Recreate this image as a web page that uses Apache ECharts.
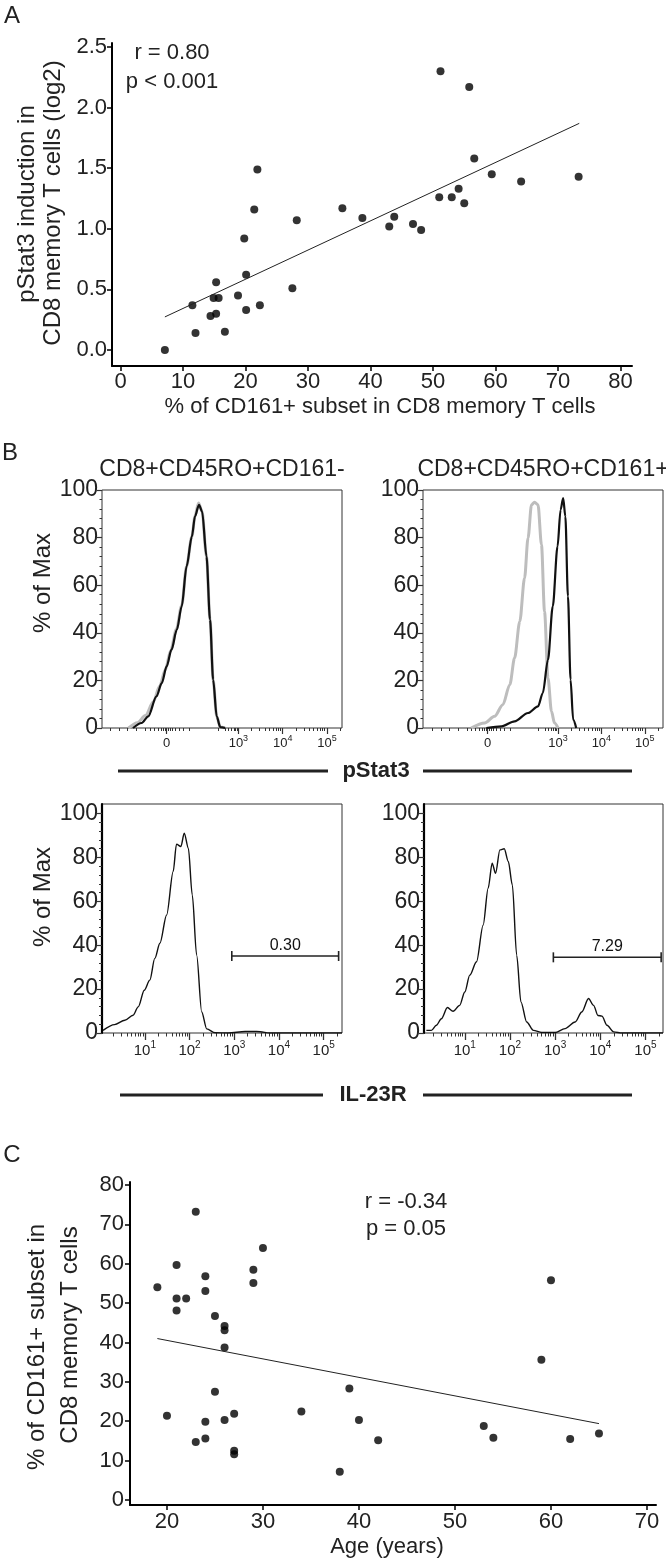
<!DOCTYPE html>
<html><head><meta charset="utf-8">
<script src="https://cdn.jsdelivr.net/npm/echarts@6/dist/echarts.min.js"></script>
<style>html,body{margin:0;padding:0;background:#fff}#c{width:666px;height:1558px}</style>
</head><body><div id="c"></div><script>
// ---------- Panel A data ----------
const aX = [7.1, 11.5, 12.0, 14.4, 14.9, 15.3, 15.3, 15.7, 16.7, 18.8, 19.8, 20.1, 20.1, 21.4, 21.9, 22.3, 27.5, 28.2, 35.5, 38.7, 43.0, 43.8, 46.8, 48.1, 51.0, 51.2, 53.0, 54.1, 55.0, 55.8, 56.6, 59.4, 64.1, 73.3];
const aY = [0.00, 0.37, 0.14, 0.28, 0.43, 0.30, 0.56, 0.43, 0.15, 0.45, 0.92, 0.33, 0.62, 1.16, 1.49, 0.37, 0.51, 1.07, 1.17, 1.09, 1.02, 1.10, 1.04, 0.99, 1.26, 2.30, 1.26, 1.33, 1.21, 2.17, 1.58, 1.45, 1.39, 1.43];
const aTrendX = [7.1, 73.4];
const aTrendY = [0.273, 1.87];
const aXTicks = [0, 10, 20, 30, 40, 50, 60, 70, 80];
const aYTicks = [0, 0.5, 1.0, 1.5, 2.0, 2.5];

// ---------- Panel B data (pStat3, biexponential display units: 10^3 -> 3, 10^4 -> 4 ...) ----------
const biexTickPos = [1.38, 3, 4, 5];
const biexTickExp = ['0', '3', '4', '5'];
const biexMinorTicks = [0.1, 0.3, 0.5, 0.7, 0.9, 1.0, 1.1, 1.18, 1.25, 1.3, 1.34, 1.42, 1.46, 1.51, 1.58, 1.66, 1.76, 1.9, 2.55, 2.7, 2.78, 2.85, 2.9, 2.94, 2.97, 3.3, 3.48, 3.6, 3.7, 3.78, 3.85, 3.9, 3.95, 4.3, 4.48, 4.6, 4.7, 4.78, 4.85, 4.9, 4.95, 5.3];
const tlGrayT = [0.52, 0.72, 0.9, 1.08, 1.22, 1.35, 1.47, 1.6, 1.72, 1.83, 1.95, 2.02, 2.1, 2.18, 2.28, 2.36, 2.43, 2.51, 2.59, 2.7];
const tlGrayV = [0, 2.2, 5.2, 11, 17.5, 24.5, 32.5, 41.5, 51.5, 68, 80.5, 89, 94.5, 91, 72, 45.5, 20.3, 4.9, 0.4, 0];
const tlBlackT = [0.62, 0.815, 0.964, 1.15, 1.27, 1.38, 1.49, 1.61, 1.72, 1.83, 1.95, 2.02, 2.11, 2.18, 2.28, 2.36, 2.43, 2.51, 2.59, 2.7];
const tlBlackV = [0, 2.1, 4.9, 13.3, 18.9, 25.9, 32.9, 41.3, 51.1, 67.9, 80.5, 88.9, 93.8, 91, 72.1, 45.5, 20.3, 4.9, 0.4, 0];
const trGrayT = [1.0, 1.31, 1.54, 1.73, 1.89, 2.0, 2.12, 2.23, 2.31, 2.39, 2.46, 2.54, 2.62, 2.69, 2.77, 2.85, 2.92, 3.0];
const trGrayV = [0, 2.1, 4.9, 9.8, 18.2, 29.4, 44.8, 63, 79.8, 93.8, 94.9, 93.8, 77, 49, 21, 7, 2.1, 0];
const trBlackT = [1.35, 1.7, 2.0, 2.31, 2.54, 2.65, 2.77, 2.88, 2.99, 3.06, 3.12, 3.17, 3.23, 3.29, 3.35, 3.42];
const trBlackV = [0, 0.7, 2.8, 6.3, 9.1, 14.7, 28.7, 51.1, 76.3, 91.7, 96.6, 88.9, 55.3, 20.3, 3.5, 0];

// ---------- Panel B data (IL-23R, log scale) ----------
const blX = [1.16, 2.1, 3.57, 5.46, 7.1, 9.7, 12.9, 16.7, 21.7, 30.7, 43, 51, 64, 76, 94, 115, 144, 187, 242, 372, 740, 1750, 2600, 3800, 6000, 100000, 257000];
const blV = [1.2, 3.8, 5.8, 8.1, 11.9, 19.5, 24.1, 34, 40.9, 53.8, 73.6, 86.1, 85, 91.1, 84.2, 62.9, 35.5, 9.6, 1.9, 0.1, 0, 0.7, 0.7, 0.6, 0, 0, 0];
const brX = [1.41, 1.82, 2.35, 3.03, 4.12, 5.5, 7.7, 10, 12.9, 18.2, 25.5, 32.9, 40.4, 48, 59.9, 74.8, 91.9, 113, 141, 175, 235, 330, 505, 1000, 1660, 2780, 3900, 5500, 7100, 8900, 10900, 14100, 19800, 30300, 100000, 245000];
const brV = [1.2, 1.2, 3.5, 6.5, 11.6, 9.9, 12.6, 18.7, 26.4, 32.5, 49.2, 66, 77.4, 72.8, 83.5, 84, 78.2, 67.5, 35.5, 14.2, 5, 1.2, 0.2, 0.2, 2, 5, 9.6, 15.7, 12.6, 8, 7.7, 3.5, 0.5, 0, 0, 0];
const gateLow = [880, 915];
const gateHigh = [216000, 223000];
const gateLevel = [35.1, 34.5];
const gateText = ['0.30', '7.29'];
const pctTicks = [0, 20, 40, 60, 80, 100];
const pctMinor = [4, 8, 12, 16, 24, 28, 32, 36, 44, 48, 52, 56, 64, 68, 72, 76, 84, 88, 92, 96];
const logDecades = [0, 1, 2, 3, 4, 5];
const logMinorMult = [2, 3, 4, 5, 6, 7, 8, 9];

// ---------- Panel C data ----------
const cAge = [19, 20, 21, 21, 21, 22, 23, 23, 24, 24, 24, 24, 25, 25, 26, 26, 26, 26, 27, 27, 27, 29, 29, 30, 34, 38, 39, 40, 42, 53, 54, 59, 60, 62, 65];
const cVal = [54.0, 21.4, 59.7, 51.2, 48.1, 51.2, 73.2, 14.7, 56.8, 53.1, 19.9, 15.6, 46.7, 27.5, 44.2, 43.1, 38.7, 20.3, 21.9, 12.5, 11.6, 58.5, 55.1, 64.0, 22.5, 7.2, 28.3, 20.3, 15.2, 18.8, 15.8, 35.6, 55.8, 15.5, 16.9];
const cTrendX = [19, 65];
const cTrendY = [41.0, 19.4];
const cXTicks = [20, 30, 40, 50, 60, 70];
const cYTicks = [0, 10, 20, 30, 40, 50, 60, 70, 80];

// ---------- build ----------
const FF = '"Liberation Sans", Arial, sans-serif';
const TXT = '#222';
const zip = (a, b) => a.map((v, i) => [v, b[i]]);

const supRich = {
  b: { fontSize: 13, fontFamily: FF, color: TXT, verticalAlign: 'bottom', lineHeight: 16 },
  s: { fontSize: 9, fontFamily: FF, color: TXT, verticalAlign: 'top', lineHeight: 16 }
};
const supRichBig = {
  b: { fontSize: 15, fontFamily: FF, color: TXT, verticalAlign: 'bottom', lineHeight: 18 },
  s: { fontSize: 10, fontFamily: FF, color: TXT, verticalAlign: 'top', lineHeight: 18 }
};

function scatterAxis(gi, min, max, ticks, fmt, margin) {
  return {
    gridIndex: gi, type: 'value', min: min, max: max,
    axisLine: { show: true, onZero: false, lineStyle: { color: '#000', width: 2 } },
    axisTick: { show: true, customValues: ticks, length: 5, lineStyle: { color: '#000', width: 1.5 } },
    axisLabel: { customValues: ticks, fontSize: 22, fontFamily: FF, color: TXT, margin: margin, formatter: fmt },
    splitLine: { show: false }
  };
}
function minorAxis(gi, min, max, ticks, len, pos) {
  return {
    gridIndex: gi, type: 'value', min: min, max: max, position: pos,
    axisLine: { show: false, onZero: false },
    axisTick: { show: true, customValues: ticks, length: len, lineStyle: { color: '#333', width: 1 } },
    axisLabel: { show: false }, splitLine: { show: false }
  };
}
function pctAxis(gi, max, thick) {
  return {
    gridIndex: gi, type: 'value', min: 0, max: max,
    axisLine: { show: thick, onZero: false, lineStyle: { color: '#000', width: 2.2 } },
    axisTick: { show: true, customValues: pctTicks, length: 5, lineStyle: { color: '#333', width: 1.2 } },
    axisLabel: { customValues: pctTicks, fontSize: 23, fontFamily: FF, color: TXT, margin: 4 },
    splitLine: { show: false }
  };
}
function biexAxis(gi, min, max) {
  return {
    gridIndex: gi, type: 'value', min: min, max: max,
    axisLine: { show: false, onZero: false },
    axisTick: { show: true, customValues: biexTickPos, length: 6, lineStyle: { color: '#333', width: 1.2 } },
    axisLabel: {
      customValues: biexTickPos, margin: 6, rich: supRich,
      formatter: v => { const i = biexTickPos.findIndex(p => Math.abs(p - v) < 1e-6); if (i < 0) return ''; return i === 0 ? '{b|0}' : '{b|10}{s|' + biexTickExp[i] + '}'; }
    },
    splitLine: { show: false }
  };
}
function logAxis(gi, min, max) {
  return {
    gridIndex: gi, type: 'log', logBase: 10, min: min, max: max,
    axisLine: { show: false, onZero: false },
    axisTick: { show: true, length: 7, lineStyle: { color: '#333', width: 1.3 } },
    axisLabel: {
      margin: 7, rich: supRichBig, showMinLabel: false, showMaxLabel: false,
      formatter: v => { const l = Math.log10(v); const e = Math.round(l); if (Math.abs(l - e) < 1e-6 && e >= 1 && e <= 5) return '{b|10}{s|' + e + '}'; return ''; }
    },
    splitLine: { show: false }
  };
}
function logMinorAxis(gi, min, max) {
  const lo = Math.log10(min), hi = Math.log10(max);
  const pos = [];
  logDecades.forEach(d => logMinorMult.forEach(k => { const p = Math.log10(k) + d; if (p > lo && p < hi) pos.push(p); }));
  return minorAxis(gi, lo, hi, pos, 3.5, 'bottom');
}
const boxGrid = (l, t, w, h) => ({ left: l, top: t, width: w, height: h, show: true, borderColor: '#333', borderWidth: 1, backgroundColor: 'transparent' });

const grids = [
  { left: 112, top: 43, width: 520, height: 323 },
  boxGrid(102, 490, 240, 238),
  boxGrid(423, 490, 240, 238),
  boxGrid(102, 804, 240, 229),
  boxGrid(424, 804, 239, 229),
  { left: 130, top: 1182, width: 526, height: 323 }
];

const TLMIN = -0.08, TLMAX = 5.34, TRMIN = -0.11, TRMAX = 5.42;
const BLMIN = 1.1, BLMAX = 257000, BRMIN = 1.25, BRMAX = 245000;

const xAxes = [
  scatterAxis(0, -1.36, 81.84, aXTicks, v => String(v), 5),
  biexAxis(1, TLMIN, TLMAX), minorAxis(1, TLMIN, TLMAX, biexMinorTicks, 3, 'bottom'),
  biexAxis(2, TRMIN, TRMAX), minorAxis(2, TRMIN, TRMAX, biexMinorTicks, 3, 'bottom'),
  logAxis(3, BLMIN, BLMAX), logMinorAxis(3, BLMIN, BLMAX),
  logAxis(4, BRMIN, BRMAX), logMinorAxis(4, BRMIN, BRMAX),
  scatterAxis(5, 16.15, 70.94, cXTicks, v => String(v), 6)
];
const yAxes = [
  scatterAxis(0, -0.132, 2.533, aYTicks, v => v.toFixed(1), 5),
  pctAxis(1, 100, false), minorAxis(1, 0, 100, pctMinor, 2.5, 'left'),
  pctAxis(2, 100, false), minorAxis(2, 0, 100, pctMinor, 2.5, 'left'),
  pctAxis(3, 104.4, true), minorAxis(3, 0, 104.4, pctMinor, 3, 'left'),
  pctAxis(4, 104.4, true), minorAxis(4, 0, 104.4, pctMinor, 3, 'left'),
  scatterAxis(5, -1.27, 80.76, cYTicks, v => String(v), 6)
];

const line = (xi, yi, data, color, width, extra) => Object.assign({
  type: 'line', xAxisIndex: xi, yAxisIndex: yi, data: data, showSymbol: false, symbol: 'none',
  smooth: 0.3, smoothMonotone: 'x', lineStyle: { color: color, width: width }, silent: true
}, extra || {});

const series = [
  { type: 'scatter', xAxisIndex: 0, yAxisIndex: 0, data: zip(aX, aY), symbolSize: 8, itemStyle: { color: '#000' } },
  line(0, 0, zip(aTrendX, aTrendY), '#222', 1, { smooth: false }),
  line(1, 1, zip(tlGrayT, tlGrayV), '#bdbdbd', 3),
  line(1, 1, zip(tlBlackT, tlBlackV), '#111', 2.2),
  line(3, 3, zip(trGrayT, trGrayV), '#bdbdbd', 3),
  line(3, 3, zip(trBlackT, trBlackV), '#111', 2.2),
  line(5, 5, zip(blX, blV), '#111', 1.4),
  line(7, 7, zip(brX, brV), '#111', 1.4),
  { type: 'scatter', xAxisIndex: 9, yAxisIndex: 9, data: zip(cAge, cVal), symbolSize: 8, itemStyle: { color: '#000' } },
  line(9, 9, zip(cTrendX, cTrendY), '#222', 1, { smooth: false })
];
[5, 7].forEach((xi, g) => {
  series.push({
    type: 'line', xAxisIndex: xi, yAxisIndex: xi, data: [[gateLow[g], gateLevel[g]], [gateHigh[g], gateLevel[g]]],
    symbol: 'rect', symbolSize: [1.6, 10], showSymbol: true, itemStyle: { color: '#222' },
    lineStyle: { color: '#222', width: 1.6 }, silent: true
  });
  series.push({
    type: 'scatter', xAxisIndex: xi, yAxisIndex: xi, silent: true,
    data: [[Math.sqrt(gateLow[g] * gateHigh[g]), gateLevel[g]]], symbolSize: 1, itemStyle: { color: '#fff', opacity: 1 },
    label: { show: true, position: 'top', distance: 2, formatter: gateText[g], fontSize: 16, fontFamily: FF, color: '#111', opacity: 1, textBorderWidth: 0 }
  });
});

const T = (text, x, y, size, opts) => Object.assign({
  type: 'text', x: x, y: y, silent: true,
  style: Object.assign({ text: text, fontSize: size, fontFamily: FF, fill: TXT, align: 'center', verticalAlign: 'middle' }, (opts && opts.style) || {})
}, (opts && opts.el) || {});
const rot = { el: { rotation: Math.PI / 2 } };
const L = (x1, y1, x2, y2, w) => ({ type: 'line', silent: true, shape: { x1: x1, y1: y1, x2: x2, y2: y2 }, style: { stroke: '#222', lineWidth: w } });

const graphics = [
  T('A', 12, 16, 24),
  T('r = 0.80', 172, 53, 22),
  T('p < 0.001', 172, 82, 22),
  T('pStat3 induction in', 27, 204, 24, rot),
  T('CD8 memory T cells (log2)', 53, 203, 24, rot),
  T('% of CD161+ subset in CD8 memory T cells', 380, 407, 22),
  T('B', 10, 453, 24),
  T('CD8+CD45RO+CD161-', 222, 470, 23),
  T('CD8+CD45RO+CD161+', 543, 470, 23),
  T('% of Max', 43, 583, 24, rot),
  T('% of Max', 43, 897, 24, rot),
  L(118, 771, 328, 771, 3), L(423, 771, 632, 771, 3),
  T('pStat3', 376, 771, 22, { style: { fontWeight: 'bold' } }),
  L(120, 1095, 323, 1095, 3), L(423, 1095, 632, 1095, 3),
  T('IL-23R', 373, 1095, 22, { style: { fontWeight: 'bold' } }),
  T('C', 12, 1155, 24),
  T('r = -0.34', 406, 1202, 22),
  T('p = 0.05', 406, 1229, 22),
  T('% of CD161+ subset in', 37, 1347, 24, rot),
  T('CD8 memory T cells', 70, 1335, 24, rot),
  T('Age (years)', 387, 1547, 22)
];

const chart = echarts.init(document.getElementById('c'), null, { renderer: 'canvas' });
chart.setOption({
  animation: false,
  backgroundColor: '#fff',
  grid: grids,
  xAxis: xAxes,
  yAxis: yAxes,
  series: series,
  graphic: graphics
});
</script></body></html>
